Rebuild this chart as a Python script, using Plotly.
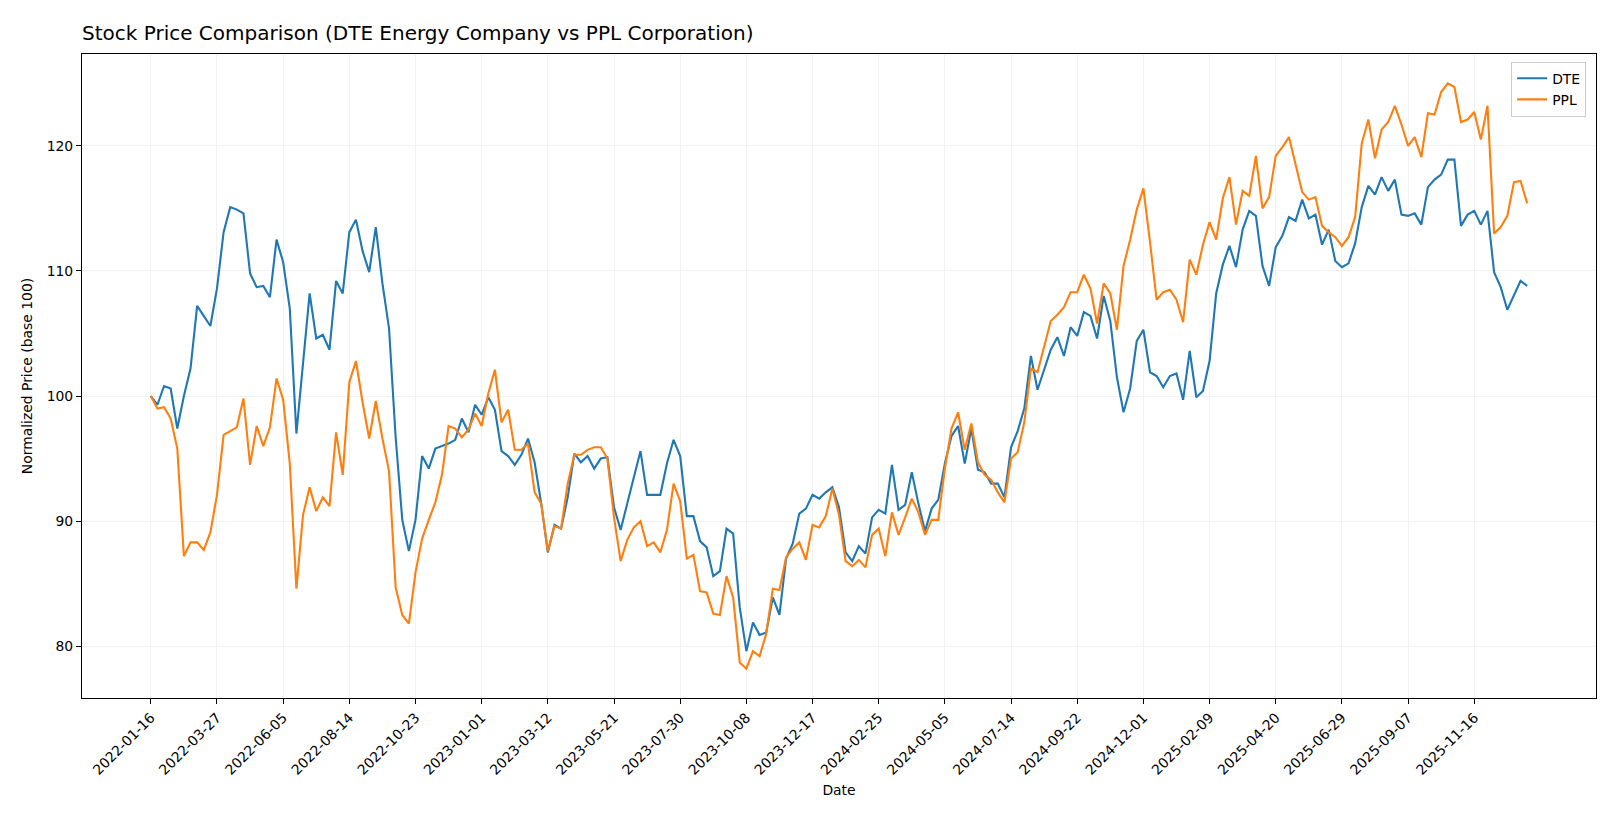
import pandas as pd
import plotly.graph_objects as go

# weekly closes, normalized to 100 at the first week
start_date = "2022-01-16"

dte = [
    100.0, 99.3, 100.8, 100.6, 97.4, 100.0, 102.2, 107.2, 106.4, 105.6,
    108.6, 113.1, 115.1, 114.9, 114.6, 109.8, 108.7, 108.8, 107.9, 112.5,
    110.7, 107.0, 97.0, 102.8, 108.2, 104.6, 104.9, 103.7, 109.2, 108.2,
    113.1, 114.1, 111.6, 109.9, 113.5, 109.0, 105.4, 96.7, 90.1, 87.6,
    90.1, 95.2, 94.2, 95.8, 96.0, 96.2, 96.5, 98.2, 97.1, 99.3,
    98.5, 99.9, 98.9, 95.6, 95.2, 94.5, 95.3, 96.6, 94.7, 91.4,
    87.5, 89.7, 89.4, 91.9, 95.4, 94.7, 95.2, 94.2, 95.0, 95.1,
    91.1, 89.3, 91.4, 93.5, 95.6, 92.1, 92.1, 92.1, 94.6, 96.5,
    95.2, 90.4, 90.4, 88.4, 87.9, 85.6, 86.0, 89.4, 89.0, 83.1,
    79.6, 81.9, 80.9, 81.1, 83.9, 82.5, 87.0, 88.2, 90.6, 91.0,
    92.1, 91.8, 92.3, 92.7, 91.1, 87.5, 86.8, 88.0, 87.4, 90.3,
    90.9, 90.6, 94.5, 90.9, 91.3, 93.9, 91.4, 89.2, 91.0, 91.7,
    94.6, 96.8, 97.6, 94.6, 97.4, 94.1, 93.9, 93.0, 93.0, 91.9,
    95.9, 97.2, 99.0, 103.2, 100.5, 102.1, 103.7, 104.7, 103.2, 105.5,
    104.8, 106.7, 106.4, 104.6, 108.0, 106.0, 101.5, 98.7, 100.6, 104.4,
    105.3, 101.9, 101.6, 100.7, 101.6, 101.8, 99.7, 103.6, 99.9, 100.4,
    102.8, 108.2, 110.5, 112.0, 110.3, 113.3, 114.8, 114.4, 110.4, 108.8,
    111.9, 112.8, 114.3, 114.0, 115.7, 114.2, 114.5, 112.1, 113.3, 110.8,
    110.3, 110.6, 112.2, 115.1, 116.8, 116.1, 117.5, 116.4, 117.3, 114.5,
    114.4, 114.6, 113.7, 116.7, 117.3, 117.7, 118.9, 118.9, 113.6, 114.5,
    114.8, 113.7, 114.8, 109.9, 108.7, 106.9, 108.1, 109.2, 108.8,
]

ppl = [
    100.0, 99.0, 99.1, 98.2, 95.8, 87.2, 88.3, 88.3, 87.7, 89.1,
    92.1, 96.9, 97.2, 97.5, 99.8, 94.5, 97.6, 96.0, 97.5, 101.4,
    99.7, 94.6, 84.6, 90.5, 92.7, 90.8, 91.9, 91.2, 97.1, 93.7,
    101.1, 102.8, 99.5, 96.6, 99.6, 96.6, 94.0, 84.7, 82.5, 81.8,
    85.9, 88.6, 90.1, 91.5, 93.7, 97.6, 97.4, 96.7, 97.3, 98.6,
    97.6, 100.2, 102.1, 97.9, 98.9, 95.7, 95.7, 96.2, 92.3, 91.4,
    87.6, 89.6, 89.4, 93.0, 95.3, 95.3, 95.7, 95.9, 95.9, 95.0,
    90.3, 86.8, 88.5, 89.5, 90.0, 88.0, 88.3, 87.5, 89.3, 93.0,
    91.6, 87.0, 87.3, 84.4, 84.3, 82.6, 82.5, 85.6, 83.9, 78.7,
    78.2, 79.6, 79.2, 81.0, 84.6, 84.5, 87.1, 87.8, 88.3, 86.9,
    89.7, 89.5, 90.4, 92.6, 90.5, 86.8, 86.4, 86.9, 86.3, 88.9,
    89.4, 87.2, 90.7, 88.9, 90.3, 91.8, 90.7, 88.9, 90.1, 90.1,
    94.2, 97.4, 98.7, 95.7, 97.8, 94.7, 93.7, 93.3, 92.3, 91.5,
    95.0, 95.5, 97.9, 102.2, 101.9, 104.0, 106.0, 106.5, 107.1, 108.3,
    108.3, 109.7, 108.6, 105.8, 109.0, 108.2, 105.3, 110.4, 112.5, 114.9,
    116.6, 112.3, 107.7, 108.3, 108.5, 107.7, 105.9, 110.9, 109.7, 112.1,
    113.9, 112.5, 115.8, 117.5, 113.7, 116.4, 116.0, 119.2, 115.0, 115.9,
    119.2, 119.9, 120.7, 118.5, 116.3, 115.7, 115.9, 113.6, 113.1, 112.7,
    112.0, 112.7, 114.3, 120.2, 122.1, 119.0, 121.3, 121.9, 123.2, 121.7,
    120.0, 120.7, 119.1, 122.6, 122.5, 124.3, 125.0, 124.7, 121.9, 122.1,
    122.7, 120.5, 123.2, 113.0, 113.5, 114.4, 117.1, 117.2, 115.4,
]

tick_dates = [
    "2022-01-16", "2022-03-27", "2022-06-05", "2022-08-14", "2022-10-23",
    "2023-01-01", "2023-03-12", "2023-05-21", "2023-07-30", "2023-10-08",
    "2023-12-17", "2024-02-25", "2024-05-05", "2024-07-14", "2024-09-22",
    "2024-12-01", "2025-02-09", "2025-04-20", "2025-06-29", "2025-09-07",
    "2025-11-16",
]
y_ticks = [80, 90, 100, 110, 120]

dates = pd.date_range(start_date, periods=len(dte), freq="7D")

# matplotlib-like 5% padding
span = dates[-1] - dates[0]
x_range = [dates[0] - span * 0.05, dates[-1] + span * 0.05]
lo = min(min(dte), min(ppl))
hi = max(max(dte), max(ppl))
y_range = [lo - (hi - lo) * 0.05, hi + (hi - lo) * 0.05]

font = "DejaVu Sans"
# page body has an 8px margin, so the figure is sized to fit inside it
W, H = 1611, 811

fig = go.Figure()
fig.add_trace(go.Scatter(x=dates, y=dte, mode="lines", name="DTE",
                         line=dict(color="#1f77b4", width=2.1)))
fig.add_trace(go.Scatter(x=dates, y=ppl, mode="lines", name="PPL",
                         line=dict(color="#ff7f0e", width=2.1)))

axis_common = dict(
    showline=True, linecolor="black", linewidth=1.1, mirror=True,
    ticks="outside", ticklen=5, tickwidth=1.1, tickcolor="black",
    showgrid=True, gridcolor="#f2f2f2", gridwidth=1,
    zeroline=False,
    tickfont=dict(family=font, size=13.9, color="black"),
)

fig.update_layout(
    width=W, height=H,
    margin=dict(l=74, r=23, t=46, b=121),
    paper_bgcolor="white", plot_bgcolor="white",
    font=dict(family=font, color="black"),
    title=dict(text="Stock Price Comparison (DTE Energy Company vs PPL Corporation)",
               x=74 / W, xanchor="left", xref="container",
               y=1 - 25 / H, yanchor="middle", yref="container",
               font=dict(family=font, size=20, color="black")),
    xaxis=dict(axis_common, range=x_range, tickvals=tick_dates, ticktext=tick_dates,
               tickangle=-45,
               title=dict(text="Date", font=dict(family=font, size=13.9), standoff=8)),
    yaxis=dict(axis_common, range=y_range, tickvals=y_ticks,
               title=dict(text="Normalized Price (base 100)", font=dict(family=font, size=13.9),
                          standoff=10)),
    legend=dict(x=0.9935, xanchor="right", y=0.988, yanchor="top",
                bgcolor="rgba(255,255,255,0.8)", bordercolor="#cccccc", borderwidth=1,
                font=dict(family=font, size=13.9), tracegroupgap=0),
    showlegend=True,
)

fig.write_html("out.html", config={"displayModeBar": False})
